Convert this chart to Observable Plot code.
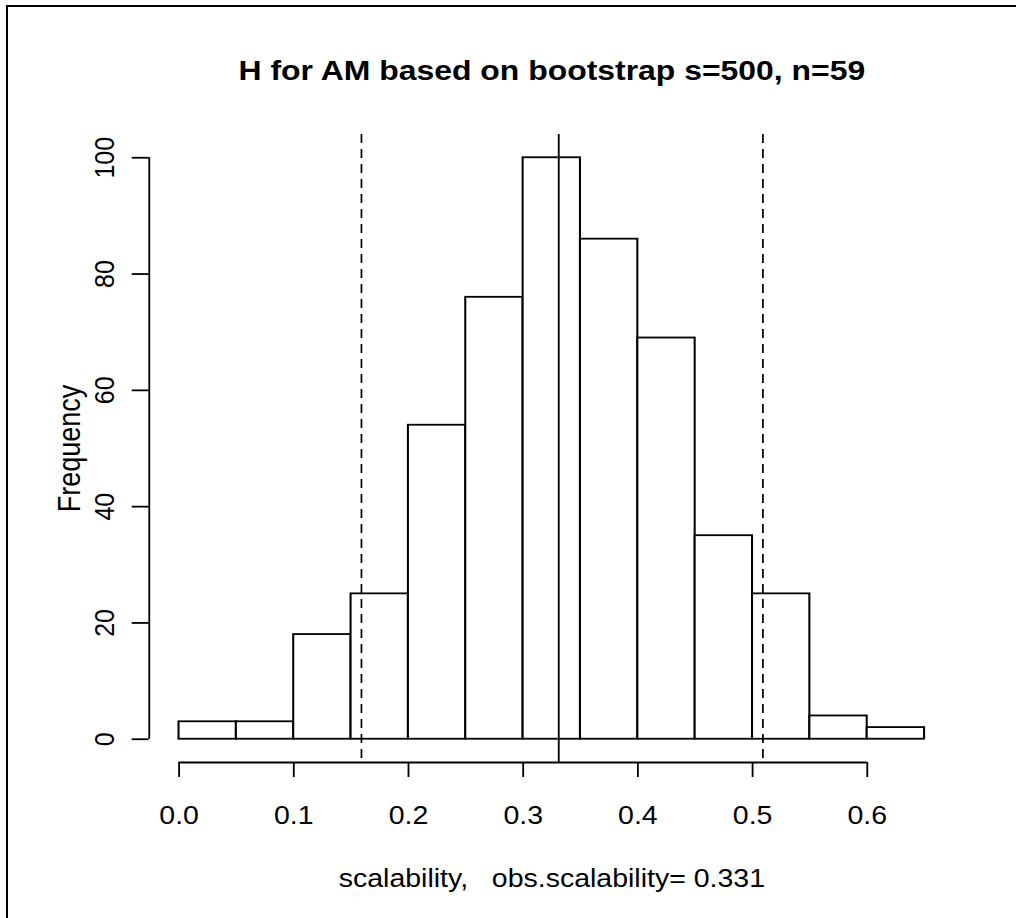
<!DOCTYPE html>
<html><head><meta charset="utf-8">
<script src="https://cdn.jsdelivr.net/npm/d3@7"></script>
<script src="https://cdn.jsdelivr.net/npm/@observablehq/plot@0.6"></script>
<style>
html,body{margin:0;padding:0;background:#fff;overflow:hidden;width:1016px;height:918px;}
#wrap{position:relative;width:1016px;height:918px;overflow:hidden;background:#fff;}
#chart{position:absolute;left:0;top:0;width:1016px;height:918px;overflow:hidden;}
#chart svg{transform:scaleX(1.14);transform-origin:0 0;display:block;max-width:none;}
.fl{position:absolute;pointer-events:none;}
#cover{left:1000px;top:0;width:40px;height:918px;background:#fff;}
#ftop{left:6px;top:5px;width:1400px;height:2px;background:#000;}
#fleft{left:6px;top:5px;width:2px;height:1400px;background:#000;}
</style></head><body>
<div id="wrap"><div id="chart"></div><div class="fl" id="cover"></div><div class="fl" id="ftop"></div><div class="fl" id="fleft"></div></div>
<script>
// ---- data ----
const binStarts = [0.00, 0.05, 0.10, 0.15, 0.20, 0.25, 0.30, 0.35, 0.40, 0.45, 0.50, 0.55, 0.60];
const binWidth = 0.05;
const counts = [3, 3, 18, 25, 54, 76, 100, 86, 69, 35, 25, 4, 2];
const obsScalability = 0.331;
const ciBounds = [0.159, 0.509];
const xTicks = [0.0, 0.1, 0.2, 0.3, 0.4, 0.5, 0.6];
const yTicks = [0, 20, 40, 60, 80, 100];
const titleText = "H for AM based on bootstrap s=500, n=59";
const xLabel = "scalability,\u00a0\u00a0 obs.scalability= 0.331";
const yLabel = "Frequency";

// ---- layout ----
const S = 1.14;                 // horizontal stretch of the original picture
const W = 1016 / S;
const xDomain = [-0.026, 0.676];
const yDomain = [-4, 104];
const mL = 148.7 / S, mR = (1016 - 953.9) / S, mT = 134, mB = 156;
const fs = 25;
const fsY = 27;
const font = "'Liberation Sans', Arial, Helvetica, sans-serif";

const bins = binStarts.map((x, i) => ({x1: x, x2: x + binWidth, count: counts[i]}));

const plot = Plot.plot({
  width: W, height: 918,
  marginLeft: mL, marginRight: mR, marginTop: mT, marginBottom: mB,
  x: {domain: xDomain},
  y: {domain: yDomain},
  style: {fontFamily: font, background: "transparent", color: "black"},
  marks: [
    Plot.rectY(bins, {x1: "x1", x2: "x2", y: "count", fill: "white", stroke: "black", strokeWidth: 1.8}),
    Plot.ruleX(ciBounds, {stroke: "black", strokeWidth: 1.5, strokeDasharray: "9,6"}),
    Plot.ruleX([obsScalability], {stroke: "black", strokeWidth: 1.6}),
    // x axis
    Plot.ruleY([yDomain[0]], {x1: xTicks[0], x2: xTicks[xTicks.length - 1], stroke: "black", strokeWidth: 1.8}),
    Plot.axisX({ticks: xTicks, tickSize: 15, tickPadding: 29, tickFormat: d => d.toFixed(1),
      fontSize: fs, label: null, stroke: "black", strokeWidth: 1.6, fill: "black"}),
    // y axis
    Plot.ruleX([xDomain[0]], {y1: yTicks[0], y2: yTicks[yTicks.length - 1], stroke: "black", strokeWidth: 1.6}),
    Plot.axisY({ticks: yTicks, tickSize: 17 / S, tickFormat: () => "", label: null, stroke: "black", strokeWidth: 1.8}),
    Plot.text(yTicks, {y: d => d, text: d => String(d), frameAnchor: "left", rotate: -90,
      lineAnchor: "middle", textAnchor: "middle", fontSize: fs, fill: "black",
      dx: (113 - 0.32 * fs * S) / S - mL}),
    Plot.text([yLabel], {text: d => d, frameAnchor: "left", rotate: -90,
      lineAnchor: "middle", textAnchor: "middle", fontSize: fsY, fill: "black",
      dx: (79.5 - 0.32 * fsY * S) / S - mL}),
    // title and x label
    Plot.text([titleText], {text: d => d, frameAnchor: "top", lineAnchor: "middle",
      fontSize: 28, fontWeight: "bold", fill: "black", dy: 79 - mT - 0.32 * 28}),
    Plot.text([xLabel], {text: d => d, frameAnchor: "bottom", lineAnchor: "middle",
      fontSize: fs, fill: "black", dy: 887 - (918 - mB) - 0.32 * fs})
  ]
});
document.getElementById("chart").appendChild(plot);
</script>
</body></html>
